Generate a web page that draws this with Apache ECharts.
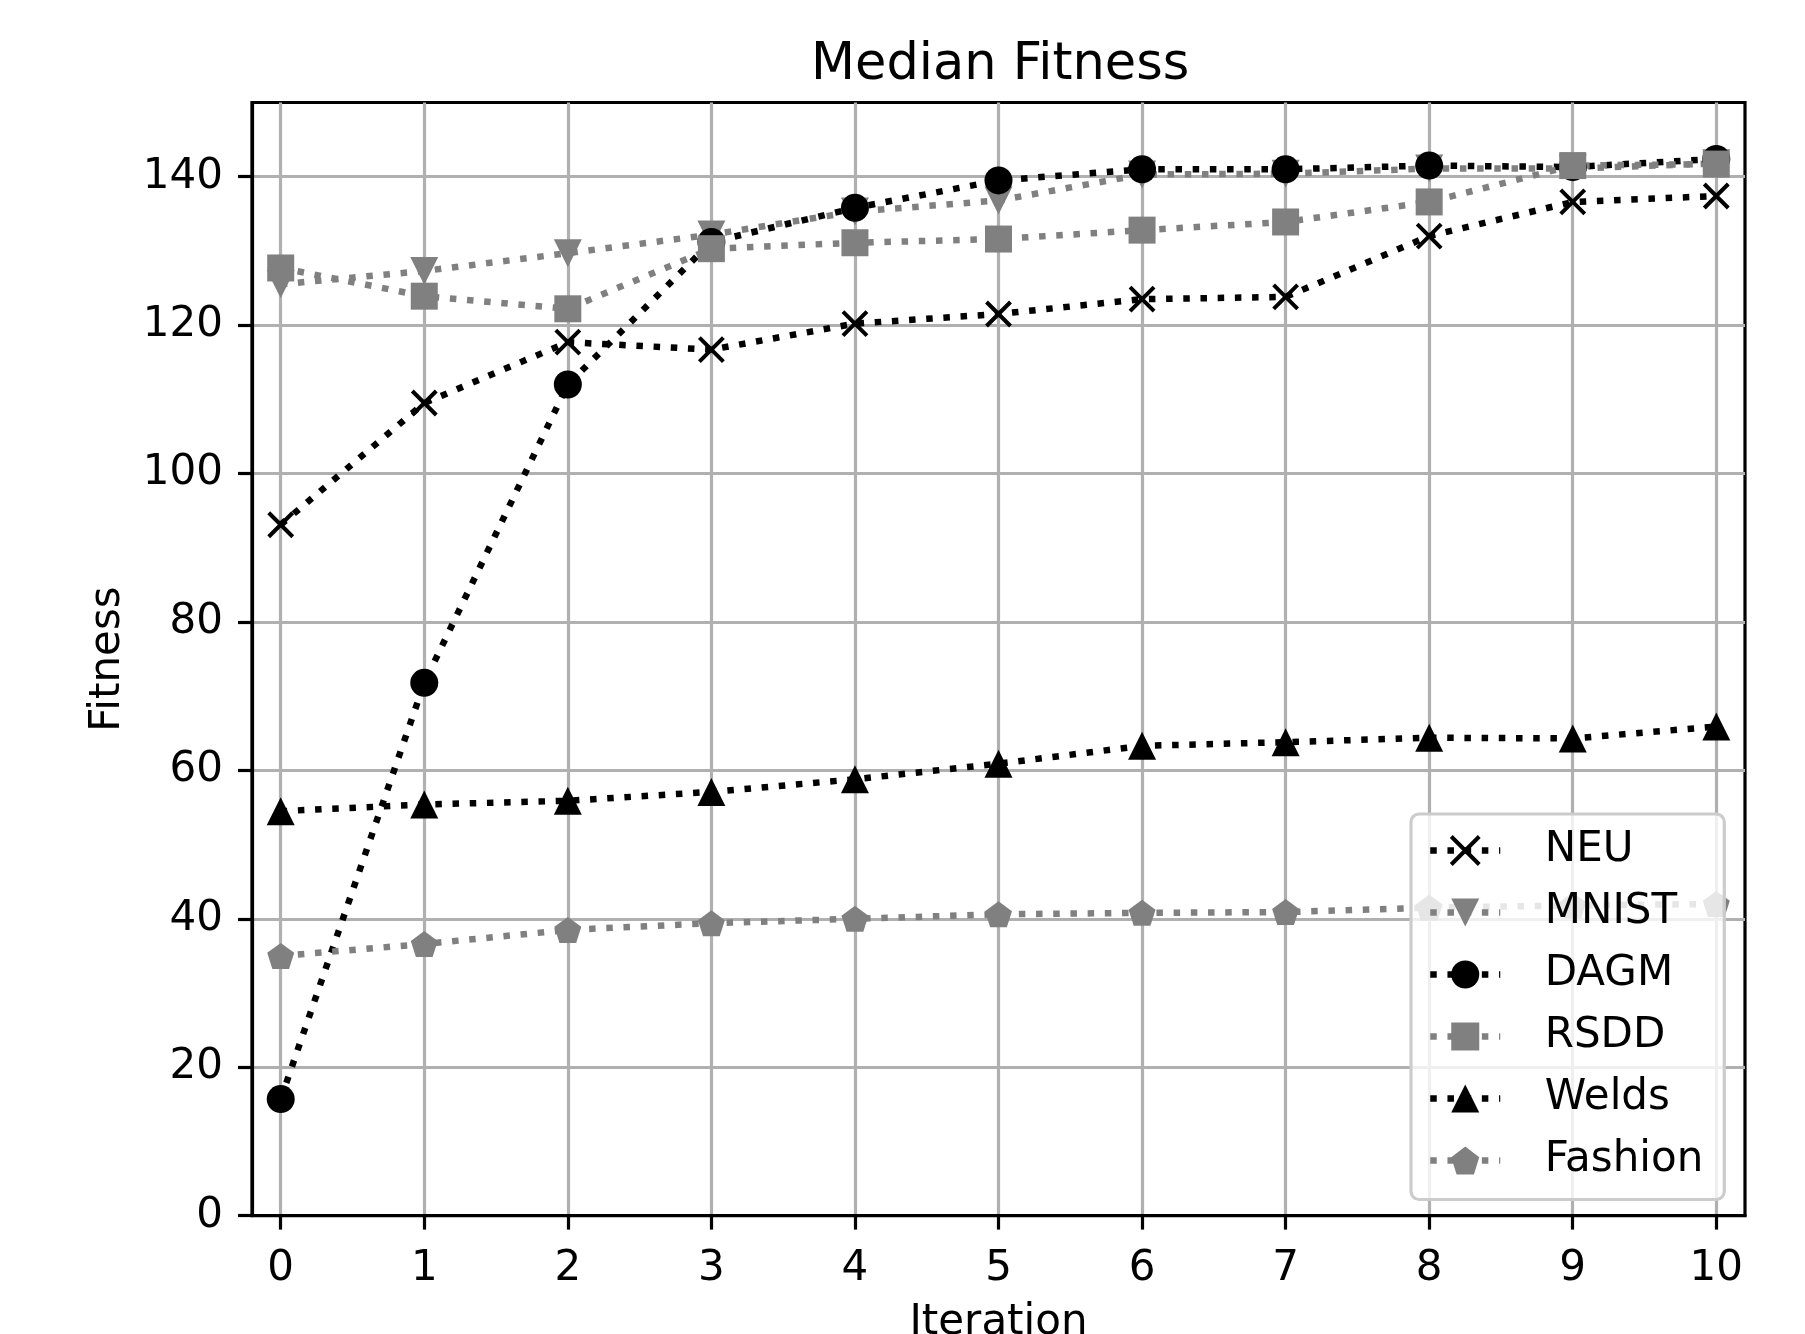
<!DOCTYPE html>
<html><head><meta charset="utf-8">
<script src="https://cdn.jsdelivr.net/npm/echarts@6/dist/echarts.min.js"></script>
<style>html,body{margin:0;padding:0;background:#fff}#c{width:1805px;height:1334px}</style>
</head><body><div id="c"></div>
<script>
const iterations = [0, 1, 2, 3, 4, 5, 6, 7, 8, 9, 10];
const yTicks = [0, 20, 40, 60, 80, 100, 120, 140];
const seriesNames = ['NEU', 'MNIST', 'DAGM', 'RSDD', 'Welds', 'Fashion'];
const neu = [93.1, 109.5, 117.7, 116.7, 120.2, 121.5, 123.5, 123.8, 132.0, 136.6, 137.4];
const mnist = [125.5, 127.3, 129.7, 132.2, 135.3, 136.8, 140.3, 140.4, 141.1, 141.1, 141.8];
const dagm = [15.7, 71.8, 112.0, 131.2, 135.8, 139.5, 141.0, 141.0, 141.5, 141.3, 142.4];
const rsdd = [127.7, 123.9, 122.2, 130.3, 131.1, 131.6, 132.8, 133.9, 136.6, 141.5, 141.7];
const welds = [54.5, 55.4, 55.9, 57.1, 58.8, 60.9, 63.3, 63.8, 64.4, 64.3, 65.9];
const fashion = [35.0, 36.6, 38.5, 39.4, 40.0, 40.6, 40.8, 40.9, 41.5, 41.8, 42.0];

const FONT = 'DejaVu Sans';
const FS = 42;
const LW = 6.5;
const DASH = [6.5, 10.7];
const BLACK = '#000000';
const GREY = '#808080';
const X_PATH = 'path://M0,0L10,10M10,0L0,10';
const PENT_PATH = 'path://M0,-1L-0.951,-0.309L-0.588,0.809L0.588,0.809L0.951,-0.309Z';

const styles = [
  {data: neu, color: BLACK, symbol: X_PATH, size: 24, border: 4},
  {data: mnist, color: GREY, symbol: 'triangle', size: 28, rotate: 180},
  {data: dagm, color: BLACK, symbol: 'circle', size: 28},
  {data: rsdd, color: GREY, symbol: 'rect', size: 27},
  {data: welds, color: BLACK, symbol: 'triangle', size: 28},
  {data: fashion, color: GREY, symbol: PENT_PATH, size: [27, 26]}
];

const series = styles.map((s, i) => ({
  name: seriesNames[i],
  type: 'line',
  data: iterations.map((x, k) => [x, s.data[k]]),
  symbol: s.symbol,
  symbolSize: s.size,
  symbolRotate: s.rotate || 0,
  showSymbol: true,
  color: s.color,
  itemStyle: s.border ? {color: s.color, borderColor: s.color, borderWidth: s.border} : {color: s.color},
  lineStyle: {color: s.color, width: LW, type: DASH, cap: 'butt'},
  emphasis: {disabled: true},
  animation: false,
  clip: false
}));

const chart = echarts.init(document.getElementById('c'), null, {renderer: 'canvas'});
chart.setOption({
  backgroundColor: '#ffffff',
  animation: false,
  title: {
    text: 'Median Fitness',
    left: 806, top: 35,
    textStyle: {fontFamily: FONT, fontSize: 51, fontWeight: 'normal', color: '#000'}
  },
  grid: {
    left: 252, top: 102.5, right: 60, bottom: 118.4,
    show: true, borderColor: '#000', borderWidth: 3.2, backgroundColor: 'transparent',
    containLabel: false, outerBoundsMode: 'none'
  },
  xAxis: {
    type: 'value', min: -0.2, max: 10.2,
    name: 'Iteration', nameLocation: 'middle', nameGap: 86,
    nameTextStyle: {fontFamily: FONT, fontSize: FS, color: '#000'},
    axisLine: {show: true, onZero: false, lineStyle: {color: '#000', width: 3.2}},
    axisTick: {show: true, inside: false, length: 14, lineStyle: {color: '#000', width: 3.2}, customValues: iterations},
    axisLabel: {show: true, margin: 32, fontFamily: FONT, fontSize: FS, color: '#000', customValues: iterations},
    splitLine: {show: true, lineStyle: {color: '#b0b0b0', width: 3.2}}
  },
  yAxis: {
    type: 'value', min: 0, max: 150,
    name: 'Fitness', nameLocation: 'middle', nameGap: 123, nameRotate: 90,
    nameTextStyle: {fontFamily: FONT, fontSize: FS, color: '#000'},
    axisLine: {show: true, onZero: false, lineStyle: {color: '#000', width: 3.2}},
    axisTick: {show: true, inside: false, length: 14, lineStyle: {color: '#000', width: 3.2}, customValues: yTicks},
    axisLabel: {show: true, margin: 29, fontFamily: FONT, fontSize: FS, color: '#000', customValues: yTicks},
    splitLine: {show: true, lineStyle: {color: '#b0b0b0', width: 3.2}}
  },
  legend: {
    orient: 'vertical',
    left: 1411, top: 814,
    padding: [15.5, 21, 18, 16],
    itemWidth: 70, itemHeight: 35, itemGap: 20,
    selectedMode: false,
    backgroundColor: 'rgba(255,255,255,0.8)',
    borderColor: '#cccccc', borderWidth: 3.2, borderRadius: 8,
    lineStyle: {width: LW},
    textStyle: {fontFamily: FONT, fontSize: FS, color: '#000', padding: [0, 0, 0, 39.5]},
    data: seriesNames.map((n, i) => i === 0
      ? {name: n, itemStyle: {borderColor: BLACK, borderWidth: 4}}
      : {name: n})
  },
  series: series
});
</script>
</body></html>
